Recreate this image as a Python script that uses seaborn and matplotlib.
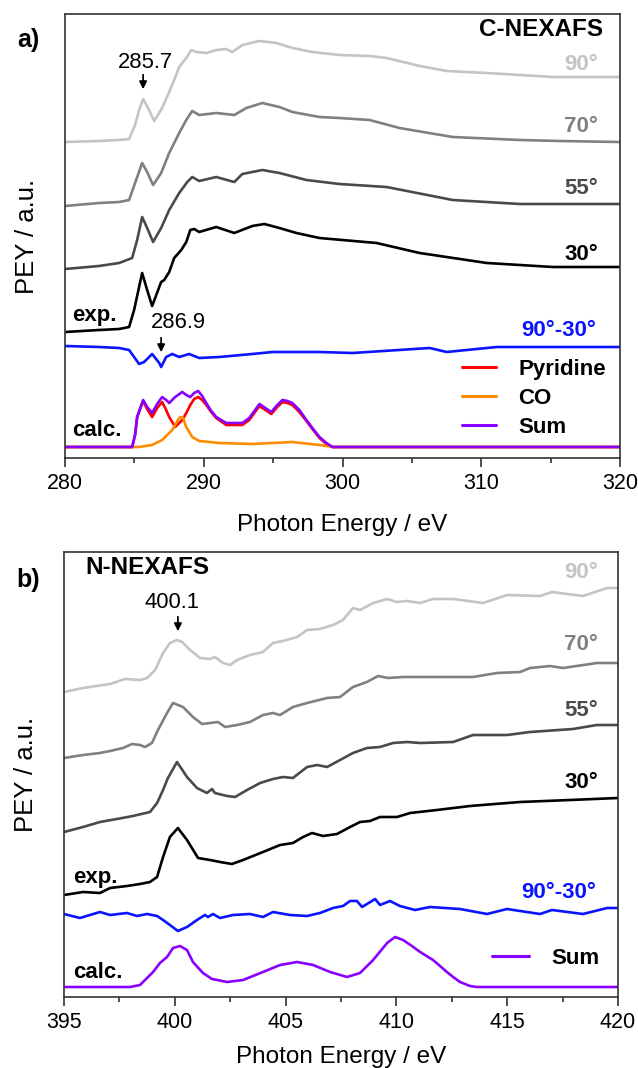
import numpy as np
import pandas as pd
import matplotlib
matplotlib.use("Agg")
import matplotlib.pyplot as plt
from matplotlib.ticker import MultipleLocator
import seaborn as sns

# ---------------- Panel a : C-NEXAFS ----------------
c_e90 = [280.0, 282.45, 283.90, 284.62, 285.05, 285.34, 285.63, 285.99, 286.43, 287.00, 287.51, 287.87, 288.23, 288.74, 289.10, 289.46, 290.18, 290.90, 291.62, 292.06, 292.78, 294.01, 295.23, 296.39, 297.83, 299.78, 301.95, 303.18, 305.56, 307.51, 310.40, 312.78, 315.16, 317.83, 320.0]
c_i90 = [3.16, 3.17, 3.18, 3.19, 3.33, 3.48, 3.59, 3.50, 3.37, 3.50, 3.66, 3.78, 3.91, 4.00, 4.08, 4.06, 4.05, 4.08, 4.09, 4.06, 4.13, 4.17, 4.15, 4.10, 4.06, 4.03, 4.02, 4.00, 3.92, 3.87, 3.85, 3.83, 3.81, 3.81, 3.81]

c_e70 = [280.0, 282.45, 283.90, 284.62, 285.05, 285.56, 285.92, 286.35, 286.93, 287.51, 288.23, 288.74, 289.17, 289.67, 290.90, 292.20, 293.07, 294.22, 295.45, 296.39, 298.34, 299.78, 301.95, 304.11, 307.94, 312.78, 315.67, 320.0]
c_i70 = [2.52, 2.55, 2.56, 2.58, 2.75, 2.95, 2.86, 2.73, 2.85, 3.05, 3.25, 3.38, 3.47, 3.43, 3.45, 3.43, 3.50, 3.55, 3.51, 3.46, 3.41, 3.40, 3.38, 3.30, 3.21, 3.18, 3.17, 3.16]

c_e55 = [280.0, 282.45, 283.90, 284.84, 285.20, 285.56, 285.92, 286.35, 286.93, 287.51, 288.23, 288.81, 289.17, 289.67, 290.90, 292.20, 292.78, 294.22, 295.45, 297.40, 299.78, 303.18, 307.94, 312.78, 320.0]
c_i55 = [1.89, 1.92, 1.95, 2.00, 2.18, 2.41, 2.30, 2.16, 2.30, 2.48, 2.65, 2.76, 2.81, 2.77, 2.81, 2.76, 2.84, 2.88, 2.85, 2.78, 2.74, 2.71, 2.58, 2.54, 2.54]

c_e30 = [280.0, 282.45, 283.90, 284.62, 284.98, 285.34, 285.56, 285.92, 286.28, 286.93, 287.15, 287.51, 287.87, 288.38, 288.74, 289.03, 289.31, 289.67, 290.90, 292.20, 293.50, 294.37, 295.45, 296.68, 298.34, 302.45, 305.56, 310.40, 315.16, 320.0]
c_i30 = [1.26, 1.28, 1.29, 1.31, 1.48, 1.71, 1.85, 1.68, 1.52, 1.76, 1.78, 1.86, 2.00, 2.08, 2.16, 2.28, 2.29, 2.26, 2.31, 2.25, 2.32, 2.34, 2.30, 2.25, 2.20, 2.15, 2.05, 1.95, 1.91, 1.91]

c_ediff = [280.0, 282.45, 283.90, 284.62, 284.98, 285.34, 285.70, 286.28, 286.79, 286.93, 287.29, 287.73, 288.23, 288.95, 289.67, 291.12, 293.50, 294.95, 298.34, 300.72, 306.28, 307.51, 311.12, 315.88, 320.0]
c_idiff = [1.12, 1.11, 1.10, 1.08, 1.01, 0.94, 0.96, 1.04, 0.95, 0.91, 1.01, 1.04, 1.01, 1.04, 1.00, 1.01, 1.04, 1.06, 1.06, 1.05, 1.10, 1.06, 1.11, 1.11, 1.11]

c_ecalc = [280.0, 284.84, 285.05, 285.20, 285.63, 285.92, 286.28, 286.64, 287.00, 287.29, 287.51, 287.94, 288.45, 288.74, 289.03, 289.31, 289.60, 289.89, 290.18, 290.54, 290.90, 291.62, 292.20, 292.78, 293.28, 294.01, 294.44, 294.87, 295.30, 295.67, 296.03, 296.39, 296.89, 297.40, 297.83, 298.34, 298.84, 299.28, 320.0]
c_isum = [0.11, 0.11, 0.23, 0.41, 0.58, 0.51, 0.45, 0.54, 0.61, 0.58, 0.55, 0.61, 0.66, 0.63, 0.61, 0.65, 0.67, 0.62, 0.55, 0.47, 0.41, 0.35, 0.35, 0.35, 0.40, 0.54, 0.50, 0.46, 0.53, 0.58, 0.57, 0.55, 0.48, 0.38, 0.30, 0.21, 0.15, 0.11, 0.11]
c_ipyr = [0.11, 0.11, 0.23, 0.41, 0.57, 0.49, 0.41, 0.50, 0.56, 0.48, 0.41, 0.31, 0.38, 0.45, 0.53, 0.59, 0.61, 0.58, 0.53, 0.46, 0.40, 0.33, 0.33, 0.33, 0.38, 0.52, 0.48, 0.44, 0.51, 0.56, 0.55, 0.53, 0.46, 0.37, 0.29, 0.20, 0.14, 0.11, 0.11]

c_eco = [280.0, 285.34, 286.28, 287.00, 287.73, 288.23, 288.38, 288.52, 288.74, 289.17, 289.67, 291.12, 293.50, 296.39, 298.34, 299.28, 320.0]
c_ico = [0.11, 0.11, 0.13, 0.18, 0.28, 0.40, 0.41, 0.40, 0.31, 0.21, 0.17, 0.15, 0.14, 0.16, 0.13, 0.11, 0.11]

# ---------------- Panel b : N-NEXAFS ----------------
n_e90 = [395.00, 395.86, 397.08, 397.75, 398.43, 398.75, 399.11, 399.47, 399.78, 400.10, 400.33, 400.69, 401.14, 401.59, 401.81, 402.18, 402.49, 402.81, 403.39, 403.98, 404.43, 404.88, 405.52, 405.97, 406.55, 407.14, 407.59, 408.04, 408.36, 408.95, 409.58, 410.03, 410.48, 411.07, 411.65, 412.56, 413.91, 415.00, 416.48, 417.02, 418.42, 419.51, 420.0]
n_i90 = [3.05, 3.09, 3.13, 3.18, 3.17, 3.19, 3.27, 3.44, 3.54, 3.57, 3.55, 3.47, 3.39, 3.38, 3.40, 3.34, 3.32, 3.37, 3.42, 3.45, 3.54, 3.56, 3.60, 3.67, 3.68, 3.72, 3.77, 3.89, 3.87, 3.94, 3.98, 3.95, 3.96, 3.94, 3.98, 3.98, 3.94, 4.02, 4.01, 4.05, 4.01, 4.09, 4.09]

n_e70 = [395.00, 395.86, 396.62, 397.08, 397.66, 398.07, 398.43, 398.66, 398.97, 399.24, 399.65, 399.92, 400.37, 400.82, 401.23, 401.59, 401.95, 402.27, 402.81, 403.39, 403.98, 404.43, 404.75, 405.33, 405.97, 406.87, 407.46, 408.04, 408.67, 409.17, 409.62, 410.30, 411.07, 413.46, 414.54, 415.58, 416.03, 416.93, 417.52, 419.05, 420.0]
n_i70 = [2.39, 2.42, 2.44, 2.46, 2.49, 2.53, 2.52, 2.50, 2.54, 2.67, 2.84, 2.94, 2.90, 2.80, 2.73, 2.74, 2.75, 2.70, 2.72, 2.75, 2.82, 2.84, 2.82, 2.90, 2.94, 2.99, 3.00, 3.10, 3.15, 3.21, 3.19, 3.20, 3.20, 3.20, 3.24, 3.25, 3.29, 3.31, 3.29, 3.34, 3.34]

n_e55 = [395.00, 395.86, 396.62, 397.39, 398.11, 398.88, 399.20, 399.47, 399.69, 400.10, 400.55, 401.00, 401.45, 401.68, 401.81, 402.36, 402.72, 403.26, 403.85, 404.43, 404.88, 405.33, 405.97, 406.42, 406.87, 407.46, 408.04, 408.67, 409.26, 409.85, 410.48, 411.07, 412.56, 413.46, 415.00, 416.03, 417.97, 419.05, 420.0]
n_i55 = [1.65, 1.70, 1.75, 1.78, 1.81, 1.85, 1.94, 2.07, 2.19, 2.35, 2.20, 2.09, 2.04, 2.08, 2.04, 2.01, 2.00, 2.07, 2.14, 2.18, 2.20, 2.19, 2.30, 2.32, 2.30, 2.37, 2.44, 2.49, 2.50, 2.54, 2.55, 2.54, 2.55, 2.62, 2.62, 2.65, 2.68, 2.72, 2.72]

n_e30 = [395.00, 395.86, 396.62, 397.08, 397.84, 398.43, 398.88, 399.20, 399.47, 399.78, 400.14, 400.55, 401.05, 401.59, 402.04, 402.58, 403.08, 403.98, 404.75, 405.33, 405.79, 406.19, 406.69, 407.32, 407.91, 408.36, 408.81, 409.26, 410.03, 410.62, 411.83, 413.32, 415.58, 417.84, 420.0]
n_i30 = [1.02, 1.05, 1.04, 1.09, 1.11, 1.13, 1.15, 1.20, 1.40, 1.60, 1.69, 1.57, 1.39, 1.37, 1.35, 1.33, 1.37, 1.45, 1.52, 1.54, 1.60, 1.64, 1.61, 1.63, 1.70, 1.75, 1.76, 1.80, 1.80, 1.84, 1.87, 1.91, 1.95, 1.97, 1.99]

n_ediff = [395.00, 395.72, 396.17, 396.62, 397.08, 397.84, 398.29, 398.75, 399.20, 399.47, 399.78, 400.14, 400.55, 401.00, 401.36, 401.50, 401.72, 402.04, 402.63, 403.39, 403.98, 404.43, 405.20, 405.97, 406.55, 407.14, 407.59, 407.91, 408.22, 408.45, 409.04, 409.26, 409.71, 410.16, 410.84, 411.52, 412.87, 414.09, 414.99, 416.48, 417.02, 418.42, 419.51, 420.0]
n_idiff = [0.83, 0.79, 0.82, 0.85, 0.82, 0.84, 0.81, 0.83, 0.81, 0.77, 0.72, 0.66, 0.70, 0.77, 0.82, 0.80, 0.83, 0.79, 0.82, 0.83, 0.80, 0.85, 0.82, 0.81, 0.84, 0.89, 0.91, 0.96, 0.96, 0.90, 0.98, 0.92, 0.96, 0.91, 0.87, 0.90, 0.88, 0.83, 0.88, 0.83, 0.87, 0.83, 0.89, 0.89]

n_esum = [395.00, 397.98, 398.43, 399.02, 399.33, 399.65, 399.92, 400.23, 400.55, 400.82, 401.27, 401.68, 402.36, 403.08, 403.98, 404.75, 405.52, 406.24, 407.01, 407.77, 408.36, 408.95, 409.58, 409.94, 410.30, 410.70, 411.07, 411.65, 411.97, 412.28, 412.56, 412.87, 413.32, 413.64, 420.0]
n_isum = [0.10, 0.10, 0.12, 0.25, 0.34, 0.40, 0.49, 0.51, 0.47, 0.35, 0.24, 0.18, 0.15, 0.17, 0.25, 0.32, 0.35, 0.32, 0.25, 0.20, 0.24, 0.37, 0.54, 0.60, 0.57, 0.51, 0.45, 0.37, 0.31, 0.25, 0.20, 0.15, 0.11, 0.10, 0.10]

angle_labels = ["90°", "70°", "55°", "30°"]
angle_colors = ["#c4c4c4", "#808080", "#4a4a4a", "#000000"]
calc_labels = ["Pyridine", "CO", "Sum"]
calc_colors = {"Pyridine": "#ff0000", "CO": "#ff8c00", "Sum": "#8a00ff"}
diff_color = "#0a14ff"

# ---------------- style ----------------
sns.set_theme(style="white")
plt.rcParams["font.family"] = ["Liberation Sans", "DejaVu Sans"]
plt.rcParams["text.color"] = "black"
plt.rcParams["axes.labelcolor"] = "black"
plt.rcParams["xtick.color"] = "black"
plt.rcParams["axes.edgecolor"] = "#333333"
plt.rcParams["axes.linewidth"] = 1.2

fig = plt.figure(figsize=(6.38, 10.68), dpi=100)
axA = fig.add_axes([65 / 638, 1 - 458 / 1068, 555 / 638, 444 / 1068])
axB = fig.add_axes([64 / 638, 1 - 997 / 1068, 554 / 638, 445 / 1068])

LW = 1.9
BOLD = 16


def style_axes(ax, xlim, ylim, major, minor):
    ax.set_xlim(*xlim)
    ax.set_ylim(*ylim)
    ax.set_yticks([])
    ax.xaxis.set_major_locator(MultipleLocator(major))
    ax.xaxis.set_minor_locator(MultipleLocator(minor))
    ax.tick_params(axis="x", which="both", bottom=True, direction="out",
                   color="#333333", labelcolor="black", width=1.2, labelsize=15.5, pad=4)
    ax.tick_params(axis="x", which="major", length=6.5)
    ax.tick_params(axis="x", which="minor", length=3.5)
    for s in ax.spines.values():
        s.set_visible(True)
        s.set_color("#333333")
        s.set_linewidth(1.2)
    ax.set_xlabel("Photon Energy / eV", fontsize=17.5, va="center", color="black")
    ax.set_ylabel("PEY / a.u.", fontsize=18.5, va="center", color="black")


def draw_line(ax, e, i, col):
    sns.lineplot(x=e, y=i, ax=ax, color=col, lw=LW, sort=False, legend=False,
                 estimator=None, solid_joinstyle="round")


# ----- panel a -----
for (e, i), col in zip([(c_e90, c_i90), (c_e70, c_i70), (c_e55, c_i55), (c_e30, c_i30)], angle_colors):
    draw_line(axA, e, i, col)
draw_line(axA, c_ediff, c_idiff, diff_color)

calc_a = pd.concat([
    pd.DataFrame({"E": c_ecalc, "I": c_ipyr, "component": "Pyridine"}),
    pd.DataFrame({"E": c_eco, "I": c_ico, "component": "CO"}),
    pd.DataFrame({"E": c_ecalc, "I": c_isum, "component": "Sum"}),
], ignore_index=True)
sns.lineplot(data=calc_a, x="E", y="I", hue="component", hue_order=calc_labels,
             palette=calc_colors, ax=axA, lw=LW, sort=False, estimator=None,
             solid_joinstyle="round")
style_axes(axA, (280, 320), (0, 4.44), 10, 5)
axA.xaxis.set_label_coords(0.5, -0.151)
axA.yaxis.set_label_coords(-0.069, 0.5)

h, l = axA.get_legend_handles_labels()
axA.legend(h, l, loc="upper left", bbox_to_anchor=(0.715, 0.223), frameon=False,
           borderpad=0, borderaxespad=0, handlelength=1.55, handletextpad=1.0,
           labelspacing=0.36, prop={"weight": "bold", "size": BOLD})
for ln in axA.get_legend().get_lines():
    ln.set_linewidth(2.2)

for lab, col, y in zip(angle_labels, angle_colors, [3.93, 3.31, 2.70, 2.03]):
    axA.text(318.4, y, lab, color=col, fontsize=BOLD, fontweight="bold", ha="right", va="center")
axA.text(318.8, 4.29, "C-NEXAFS", fontsize=17.5, fontweight="bold", ha="right", va="center")
axA.text(318.3, 1.28, "90°-30°", color=diff_color, fontsize=BOLD, fontweight="bold", ha="right", va="center")
axA.text(280.5, 1.43, "exp.", fontsize=BOLD, fontweight="bold", ha="left", va="center")
axA.text(280.5, 0.28, "calc.", fontsize=BOLD, fontweight="bold", ha="left", va="center")

axA.text(285.8, 3.95, "285.7", fontsize=15.8, ha="center", va="center")
axA.annotate("", xy=(285.63, 3.66), xytext=(285.63, 3.86),
             arrowprops=dict(arrowstyle="-|>", color="black", lw=1.3, mutation_scale=11))
axA.text(288.15, 1.35, "286.9", fontsize=15.8, ha="center", va="center")
axA.annotate("", xy=(286.93, 1.03), xytext=(286.93, 1.23),
             arrowprops=dict(arrowstyle="-|>", color="black", lw=1.3, mutation_scale=11))

# ----- panel b -----
for (e, i), col in zip([(n_e90, n_i90), (n_e70, n_i70), (n_e55, n_i55), (n_e30, n_i30)], angle_colors):
    draw_line(axB, e, i, col)
draw_line(axB, n_ediff, n_idiff, diff_color)
calc_b = pd.DataFrame({"E": n_esum, "I": n_isum, "component": "Sum"})
sns.lineplot(data=calc_b, x="E", y="I", hue="component", palette=calc_colors,
             ax=axB, lw=LW, sort=False, estimator=None, solid_joinstyle="round")
style_axes(axB, (395, 420), (0, 4.45), 5, 2.5)
axB.xaxis.set_label_coords(0.5, -0.135)
axB.yaxis.set_label_coords(-0.069, 0.5)

h, l = axB.get_legend_handles_labels()
axB.legend(h, l, loc="upper left", bbox_to_anchor=(0.7726, 0.110), frameon=False,
           borderpad=0, borderaxespad=0, handlelength=1.65, handletextpad=1.0,
           prop={"weight": "bold", "size": BOLD})
for ln in axB.get_legend().get_lines():
    ln.set_linewidth(2.2)

for lab, col, y in zip(angle_labels, angle_colors, [4.24, 3.53, 2.87, 2.15]):
    axB.text(419.1, y, lab, color=col, fontsize=BOLD, fontweight="bold", ha="right", va="center")
axB.text(395.95, 4.30, "N-NEXAFS", fontsize=17.5, fontweight="bold", ha="left", va="center")
axB.text(419.0, 1.05, "90°-30°", color=diff_color, fontsize=BOLD, fontweight="bold", ha="right", va="center")
axB.text(395.4, 1.20, "exp.", fontsize=BOLD, fontweight="bold", ha="left", va="center")
axB.text(395.4, 0.25, "calc.", fontsize=BOLD, fontweight="bold", ha="left", va="center")

axB.text(399.87, 3.94, "400.1", fontsize=15.8, ha="center", va="center")
axB.annotate("", xy=(400.14, 3.63), xytext=(400.14, 3.83),
             arrowprops=dict(arrowstyle="-|>", color="black", lw=1.3, mutation_scale=11))

fig.text(28 / 638, 1 - 40 / 1068, "a)", fontsize=18, fontweight="bold", ha="center", va="center")
fig.text(28 / 638, 1 - 580 / 1068, "b)", fontsize=18, fontweight="bold", ha="center", va="center")

fig.savefig("out.png", dpi=100)
